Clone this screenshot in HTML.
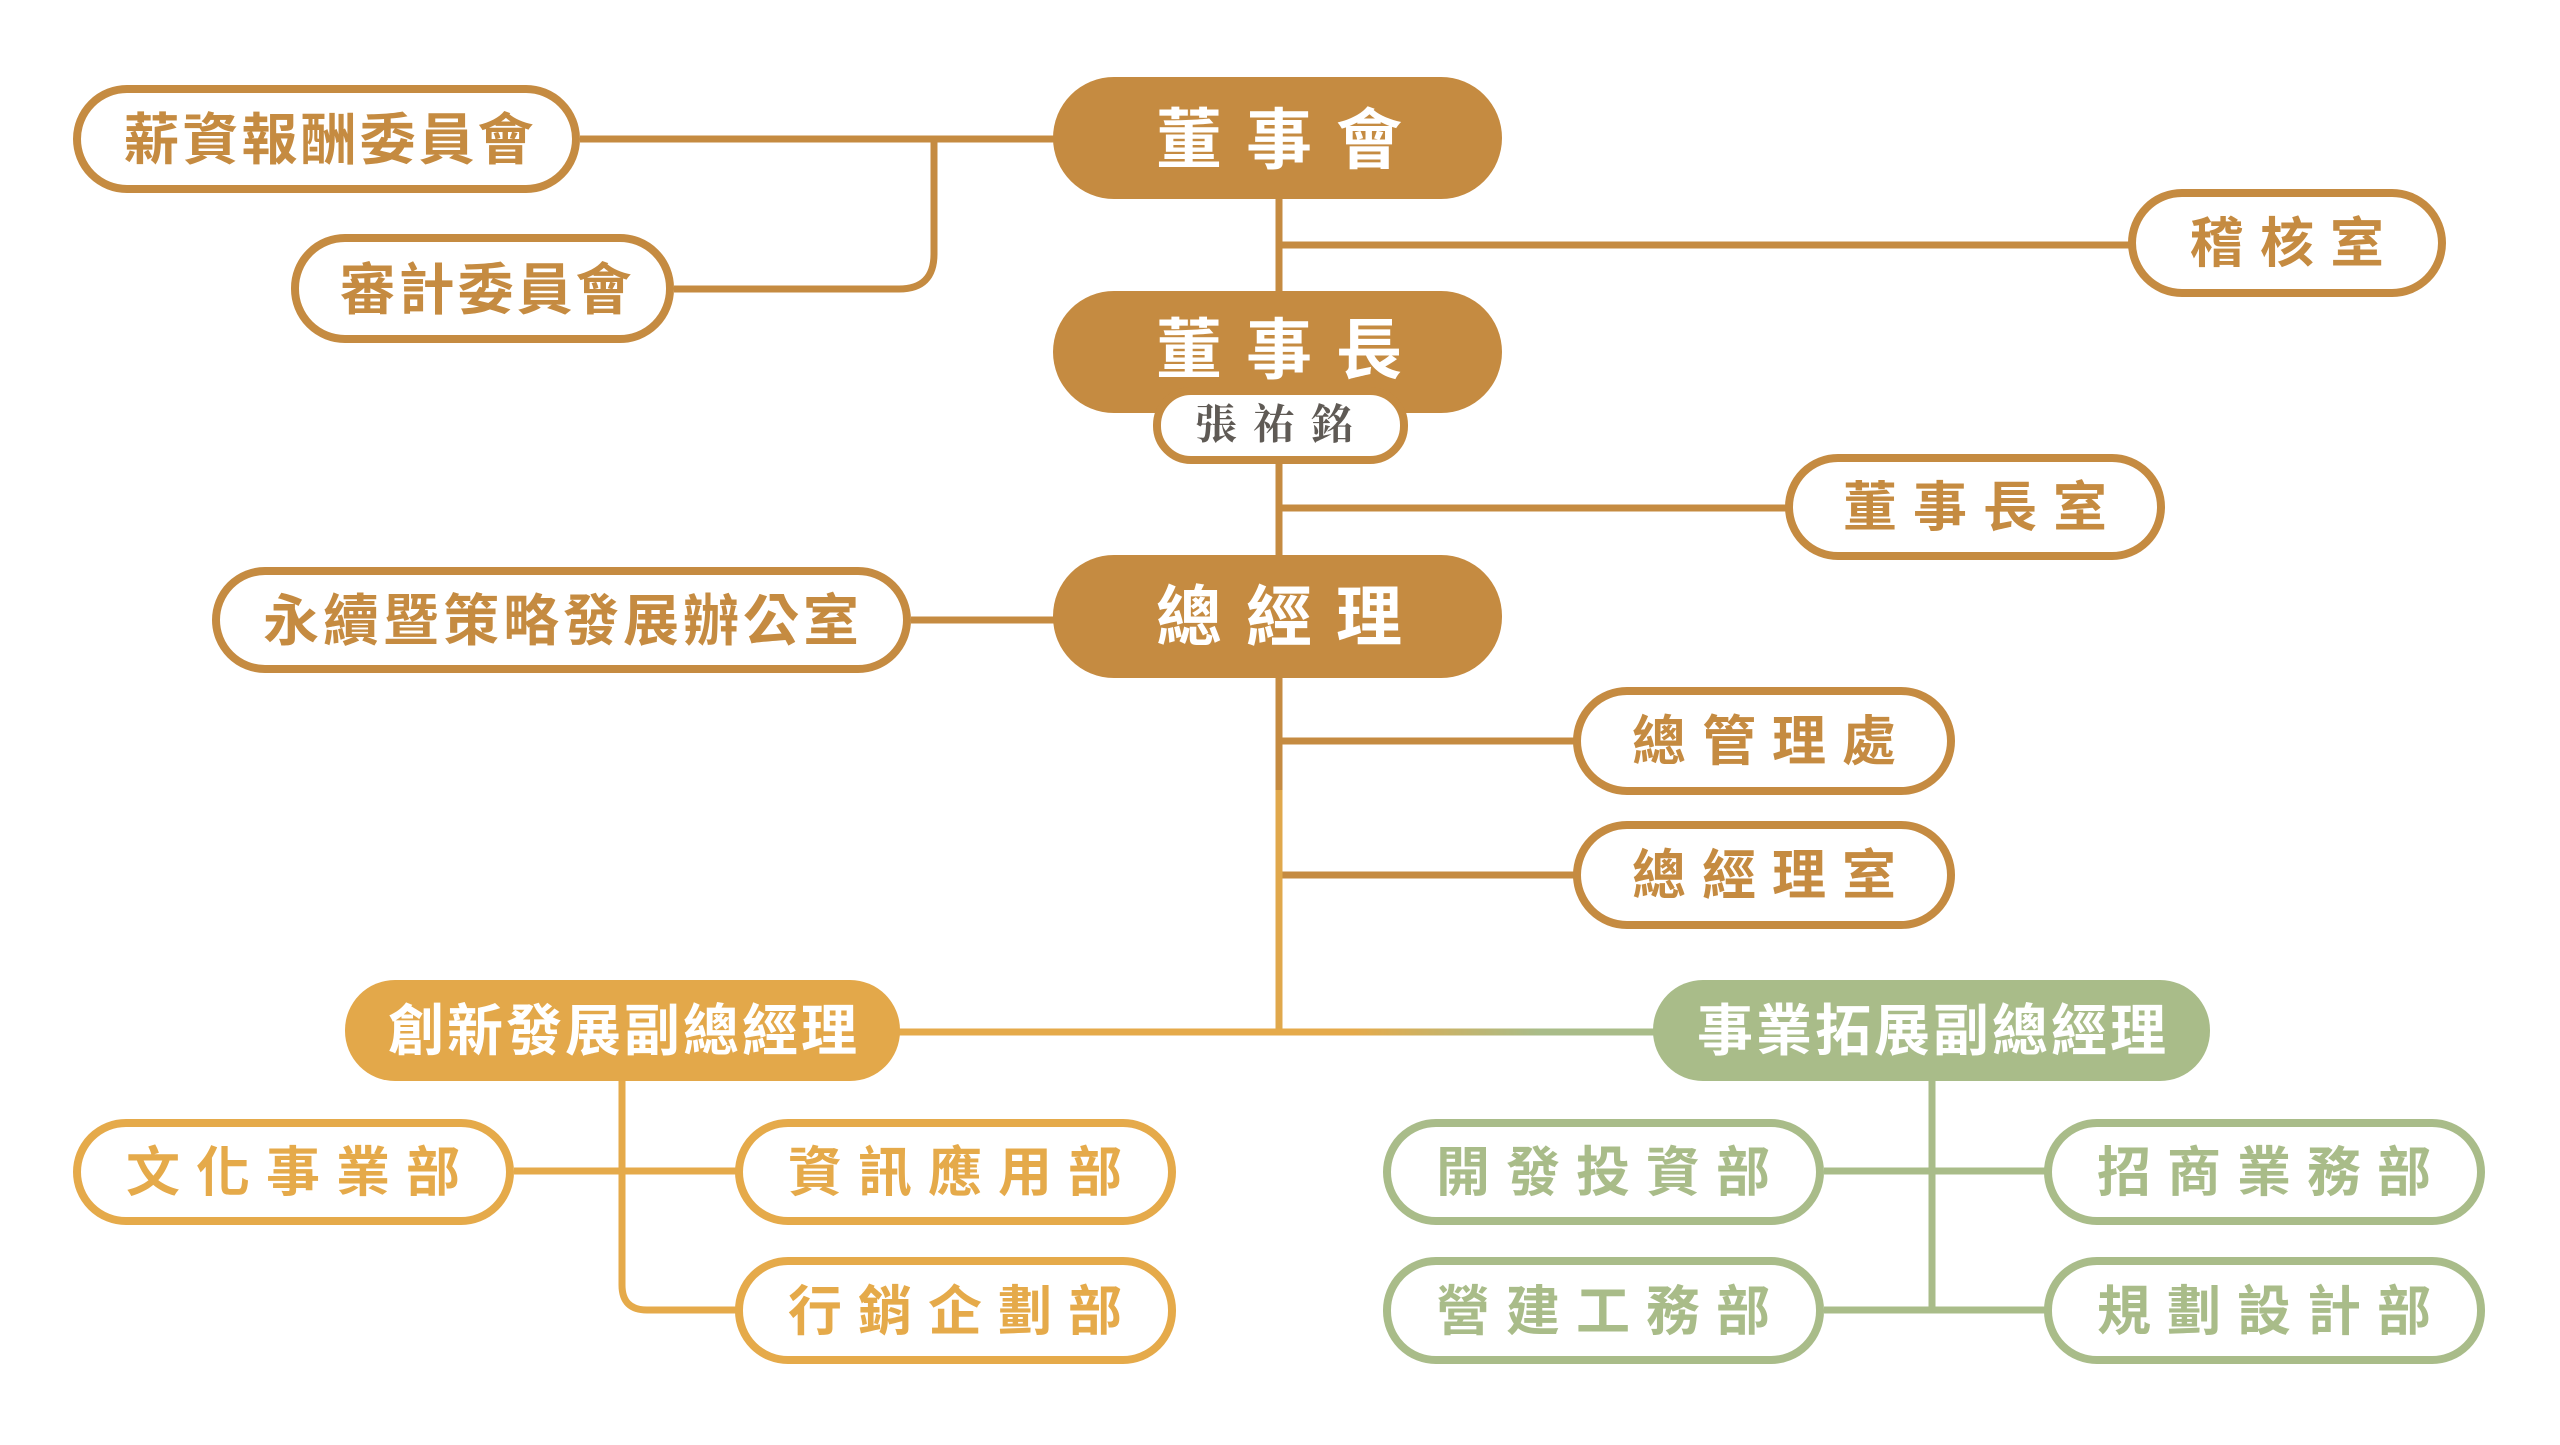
<!DOCTYPE html>
<html><head><meta charset="utf-8"><style>
html,body{margin:0;padding:0;background:#fff;}
svg{display:block;}
text{font-family:"Liberation Sans","Noto Sans CJK TC",sans-serif;font-weight:bold;text-anchor:middle;dominant-baseline:central;}
</style></head><body>
<svg width="2560" height="1445" viewBox="0 0 2560 1445" xmlns="http://www.w3.org/2000/svg">
<defs>
<linearGradient id="g1" x1="1279" y1="0" x2="1653" y2="0" gradientUnits="userSpaceOnUse">
<stop offset="0.2" stop-color="#E5AA4A"/><stop offset="0.7" stop-color="#A9BC89"/></linearGradient>
</defs>
<g fill="none" stroke-width="7">
<g stroke="#C58B41">
<line x1="580" y1="139" x2="1060" y2="139"/>
<path d="M934 139 V254 Q934 289 899 289 H674"/>
<line x1="1279" y1="199" x2="1279" y2="300"/>
<line x1="1279" y1="245" x2="2130" y2="245"/>
<line x1="1279" y1="460" x2="1279" y2="560"/>
<line x1="1279" y1="508" x2="1787" y2="508"/>
<line x1="911" y1="620" x2="1060" y2="620"/>
<line x1="1279" y1="678" x2="1279" y2="800"/>
<line x1="1279" y1="741" x2="1575" y2="741"/>
<line x1="1279" y1="875" x2="1575" y2="875"/>
</g>
<line x1="1279" y1="790" x2="1279" y2="1035" stroke="#E0A84C"/>
<line x1="890" y1="1032" x2="1283" y2="1032" stroke="#E5AA4A"/>
<line x1="1276" y1="1032" x2="1660" y2="1032" stroke="url(#g1)"/>
<g stroke="#E5AA4A">
<path d="M622 1081 V1285 Q622 1310 647 1310 H737"/>
<line x1="514" y1="1171" x2="737" y2="1171"/>
</g>
<g stroke="#A9BC89">
<line x1="1932" y1="1081" x2="1932" y2="1312"/>
<line x1="1824" y1="1171" x2="2046" y2="1171"/>
<line x1="1824" y1="1310" x2="2046" y2="1310"/>
</g>
</g>
<g fill="#C58B41">
<rect x="1053" y="77" width="449" height="122" rx="61"/>
<rect x="1053" y="291" width="449" height="122" rx="61"/>
<rect x="1053" y="555" width="449" height="123" rx="61"/>
</g>
<rect x="345" y="980" width="555" height="101" rx="50" fill="#E3A84A"/>
<rect x="1653" y="980" width="557" height="101" rx="50" fill="#A9BC89"/>
<g fill="#fff" stroke-width="8">
<g stroke="#C58B41">
<rect x="77" y="89" width="499" height="100" rx="50"/>
<rect x="295" y="238" width="375" height="101" rx="50"/>
<rect x="2132" y="193" width="310" height="100" rx="50"/>
<rect x="1157" y="391" width="247" height="69" rx="34"/>
<rect x="1789" y="458" width="372" height="98" rx="49"/>
<rect x="216" y="571" width="691" height="98" rx="49"/>
<rect x="1577" y="691" width="374" height="100" rx="50"/>
<rect x="1577" y="825" width="374" height="100" rx="50"/>
</g>
<g stroke="#E5AA4A">
<rect x="77" y="1123" width="433" height="98" rx="49"/>
<rect x="739" y="1123" width="433" height="98" rx="49"/>
<rect x="739" y="1261" width="433" height="99" rx="49"/>
</g>
<g stroke="#A9BC89">
<rect x="1387" y="1123" width="433" height="98" rx="49"/>
<rect x="2048" y="1123" width="433" height="98" rx="49"/>
<rect x="1387" y="1261" width="433" height="99" rx="49"/>
<rect x="2048" y="1261" width="433" height="99" rx="49"/>
</g>
</g>
<g fill="#fff" font-size="66" letter-spacing="24">
<text x="1291" y="140">董事會</text>
<text x="1291" y="350">董事長</text>
<text x="1291" y="617">總經理</text>
</g>
<g fill="#fff" font-size="56" letter-spacing="3">
<text x="624" y="1031">創新發展副總經理</text>
<text x="1933" y="1031">事業拓展副總經理</text>
</g>
<text x="1282" y="426" font-size="42" fill="#5f5a55" letter-spacing="16" style="font-family:'Liberation Serif','Noto Serif CJK SC',serif;font-weight:bold">張祐銘</text>
<g fill="#C58B41" font-size="56">
<text x="330" y="140" letter-spacing="3">薪資報酬委員會</text>
<text x="487" y="290" letter-spacing="3">審計委員會</text>
<text x="563" y="621" letter-spacing="4">永續暨策略發展辦公室</text>
<g letter-spacing="16" font-size="54">
<text x="2295" y="244">稽核室</text>
<text x="1983" y="508">董事長室</text>
<text x="1772" y="742">總管理處</text>
<text x="1772" y="876">總經理室</text>
</g>
</g>
<g fill="#E5AA4A" font-size="54" letter-spacing="16">
<text x="301" y="1173">文化事業部</text>
<text x="963" y="1173">資訊應用部</text>
<text x="963" y="1312">行銷企劃部</text>
</g>
<g fill="#A9BC89" font-size="54" letter-spacing="16">
<text x="1611" y="1173">開發投資部</text>
<text x="2272" y="1173">招商業務部</text>
<text x="1611" y="1312">營建工務部</text>
<text x="2272" y="1312">規劃設計部</text>
</g>
</svg>
</body></html>
